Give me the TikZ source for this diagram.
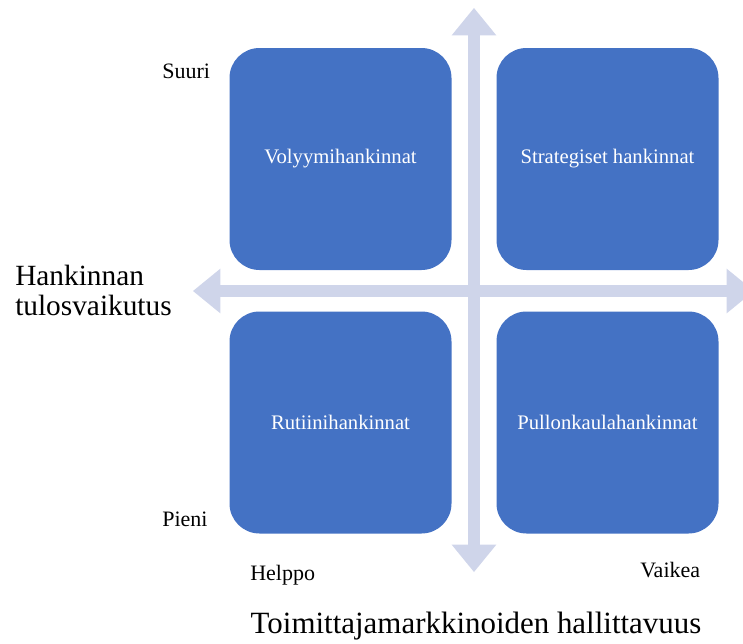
\documentclass[tikz,border=0pt]{standalone}
\usepackage{fontspec}
\setmainfont{Liberation Serif}
\usetikzlibrary{arrows.meta}
\definecolor{boxblue}{HTML}{4472C4}
\definecolor{axisgray}{HTML}{CFD5EA}
\tikzset{
  quadbox/.style={fill=boxblue, rounded corners=22.5pt, minimum width=166.5pt,
    minimum height=166.5pt, text=white, font=\fontsize{15.5}{18}\selectfont},
  axisline/.style={line width=9pt, color=axisgray,
    {Triangle[length=20.5pt,width=33.5pt,line width=0pt]}-{Triangle[length=20.5pt,width=33.5pt,line width=0pt]}},
  endlabel/.style={anchor=base west, inner sep=0pt, font=\fontsize{16.5}{19}\selectfont},
}

\begin{document}
\begin{tikzpicture}[x=0.75pt,y=-0.75pt]
\useasboundingbox (0,0) rectangle (743,643);
% axes
\coordinate (west) at (193,291);
\coordinate (east) at (754,291);
\coordinate (north) at (474,8);
\coordinate (south) at (474,572);
\draw[axisline] (west) -- (east);
\draw[axisline] (north) -- (south);
% quadrants
\node[quadbox] (volyymi) at (340.5,159) {Volyymihankinnat};
\node[quadbox] (strateg) at (607.5,159) {Strategiset hankinnat};
\node[quadbox] (rutiini) at (340.5,422.5) {Rutiinihankinnat};
\node[quadbox] (pullon) at (607.5,422.5) {Pullonkaulahankinnat};
% axis labels
\draw (162,78) node[endlabel] (suuri) {Suuri};
\draw (162,526) node[endlabel] (pieni) {Pieni};
\draw (250,580) node[endlabel] (helppo) {Helppo};
\draw (640,577) node[endlabel] (vaikea) {Vaikea};
\draw (15,315) node[anchor=base west, inner sep=0pt, align=left,
  font=\fontsize{22}{22.5}\selectfont] (tulos) {Hankinnan\\tulosvaikutus};
\draw (476,633) node[anchor=base, inner sep=0pt,
  font=\fontsize{23.2}{26}\selectfont] (hallit) {Toimittajamarkkinoiden hallittavuus};
\end{tikzpicture}
\end{document}
